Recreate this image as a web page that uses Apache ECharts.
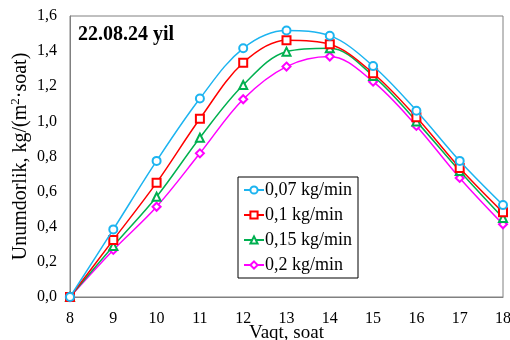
<!DOCTYPE html>
<html><head><meta charset="utf-8">
<script src="https://cdn.jsdelivr.net/npm/echarts@6/dist/echarts.min.js"></script>
<style>html,body{margin:0;padding:0;background:#fff}#c{width:510px;height:340px}</style>
</head><body><div id="c"></div>
<script>
const hours = ['8','9','10','11','12','13','14','15','16','17','18'];
const s007 = [0, 0.385, 0.775, 1.13, 1.416, 1.517, 1.488, 1.315, 1.061, 0.775, 0.524];
const s01  = [0, 0.325, 0.651, 1.015, 1.334, 1.462, 1.439, 1.274, 1.023, 0.735, 0.482];
const s015 = [0, 0.29, 0.571, 0.907, 1.207, 1.397, 1.416, 1.259, 1.0, 0.717, 0.45];
const s02  = [0, 0.268, 0.514, 0.818, 1.126, 1.312, 1.369, 1.226, 0.974, 0.678, 0.414];
const names = ['0,07 kg/min','0,1 kg/min','0,15 kg/min','0,2 kg/min'];
const colors = ['#1cb4f0','#ff0000','#00b050','#ff00ff'];
const symbols = ['emptyCircle','emptyRect','emptyTriangle','emptyDiamond'];
const dataSets = [s007, s01, s015, s02];
const font = 'Liberation Serif';
const chart = echarts.init(document.getElementById('c'));
chart.setOption({
  animation:false,
  textStyle:{fontFamily:font},
  grid:{left:70, right:7, top:16, bottom:43, show:true, borderColor:'#808080', borderWidth:1, outerBoundsMode:'none', containLabel:false},
  title:{text:'22.08.24 yil', left:78, top:25, padding:0, textStyle:{fontFamily:font, fontSize:20, fontWeight:'bold', color:'#000'}},
  legend:{
    orient:'vertical', left:238, top:177,
    backgroundColor:'#fff', borderColor:'#000', borderWidth:1,
    padding:[4,6,4,5], itemGap:7, itemWidth:20, itemHeight:9,
    textStyle:{fontFamily:font, fontSize:18, color:'#000', padding:[0,0,0,-4]},
    data:names
  },
  xAxis:{
    type:'category', data:hours, boundaryGap:false,
    name:'Vaqt, soat', nameLocation:'middle', nameGap:27, nameMoveOverlap:false,
    nameTextStyle:{fontFamily:font, fontSize:19, color:'#000'},
    axisLine:{lineStyle:{color:'#808080'}}, axisTick:{show:false},
    axisLabel:{fontFamily:font, fontSize:16, color:'#000', margin:14}
  },
  yAxis:{
    type:'value', min:0, max:1.6, interval:0.2,
    name:'{a|Unumdorlik, kg/(m}{s|2}{a|·soat)}', nameLocation:'middle', nameGap:38, nameMoveOverlap:false,
    nameTextStyle:{rich:{a:{fontFamily:font, fontSize:20, color:'#000'}, s:{fontFamily:font, fontSize:13, color:'#000', verticalAlign:'top', padding:[0,0,10,0]}}},
    axisLine:{show:true, lineStyle:{color:'#808080'}}, axisTick:{show:false},
    splitLine:{show:false},
    axisLabel:{fontFamily:font, fontSize:16, color:'#000', margin:13,
      formatter:v=>v.toFixed(1).replace('.',',')}
  },
  series: dataSets.map((d,i)=>({
    name:names[i], type:'line', data:d, smooth:0.35,
    symbol:symbols[i], symbolSize:8, showAllSymbol:true,
    lineStyle:{width:1.5, color:colors[i]},
    itemStyle:{color:colors[i], borderWidth:1.4},
    z:10-i
  }))
});
</script></body></html>
